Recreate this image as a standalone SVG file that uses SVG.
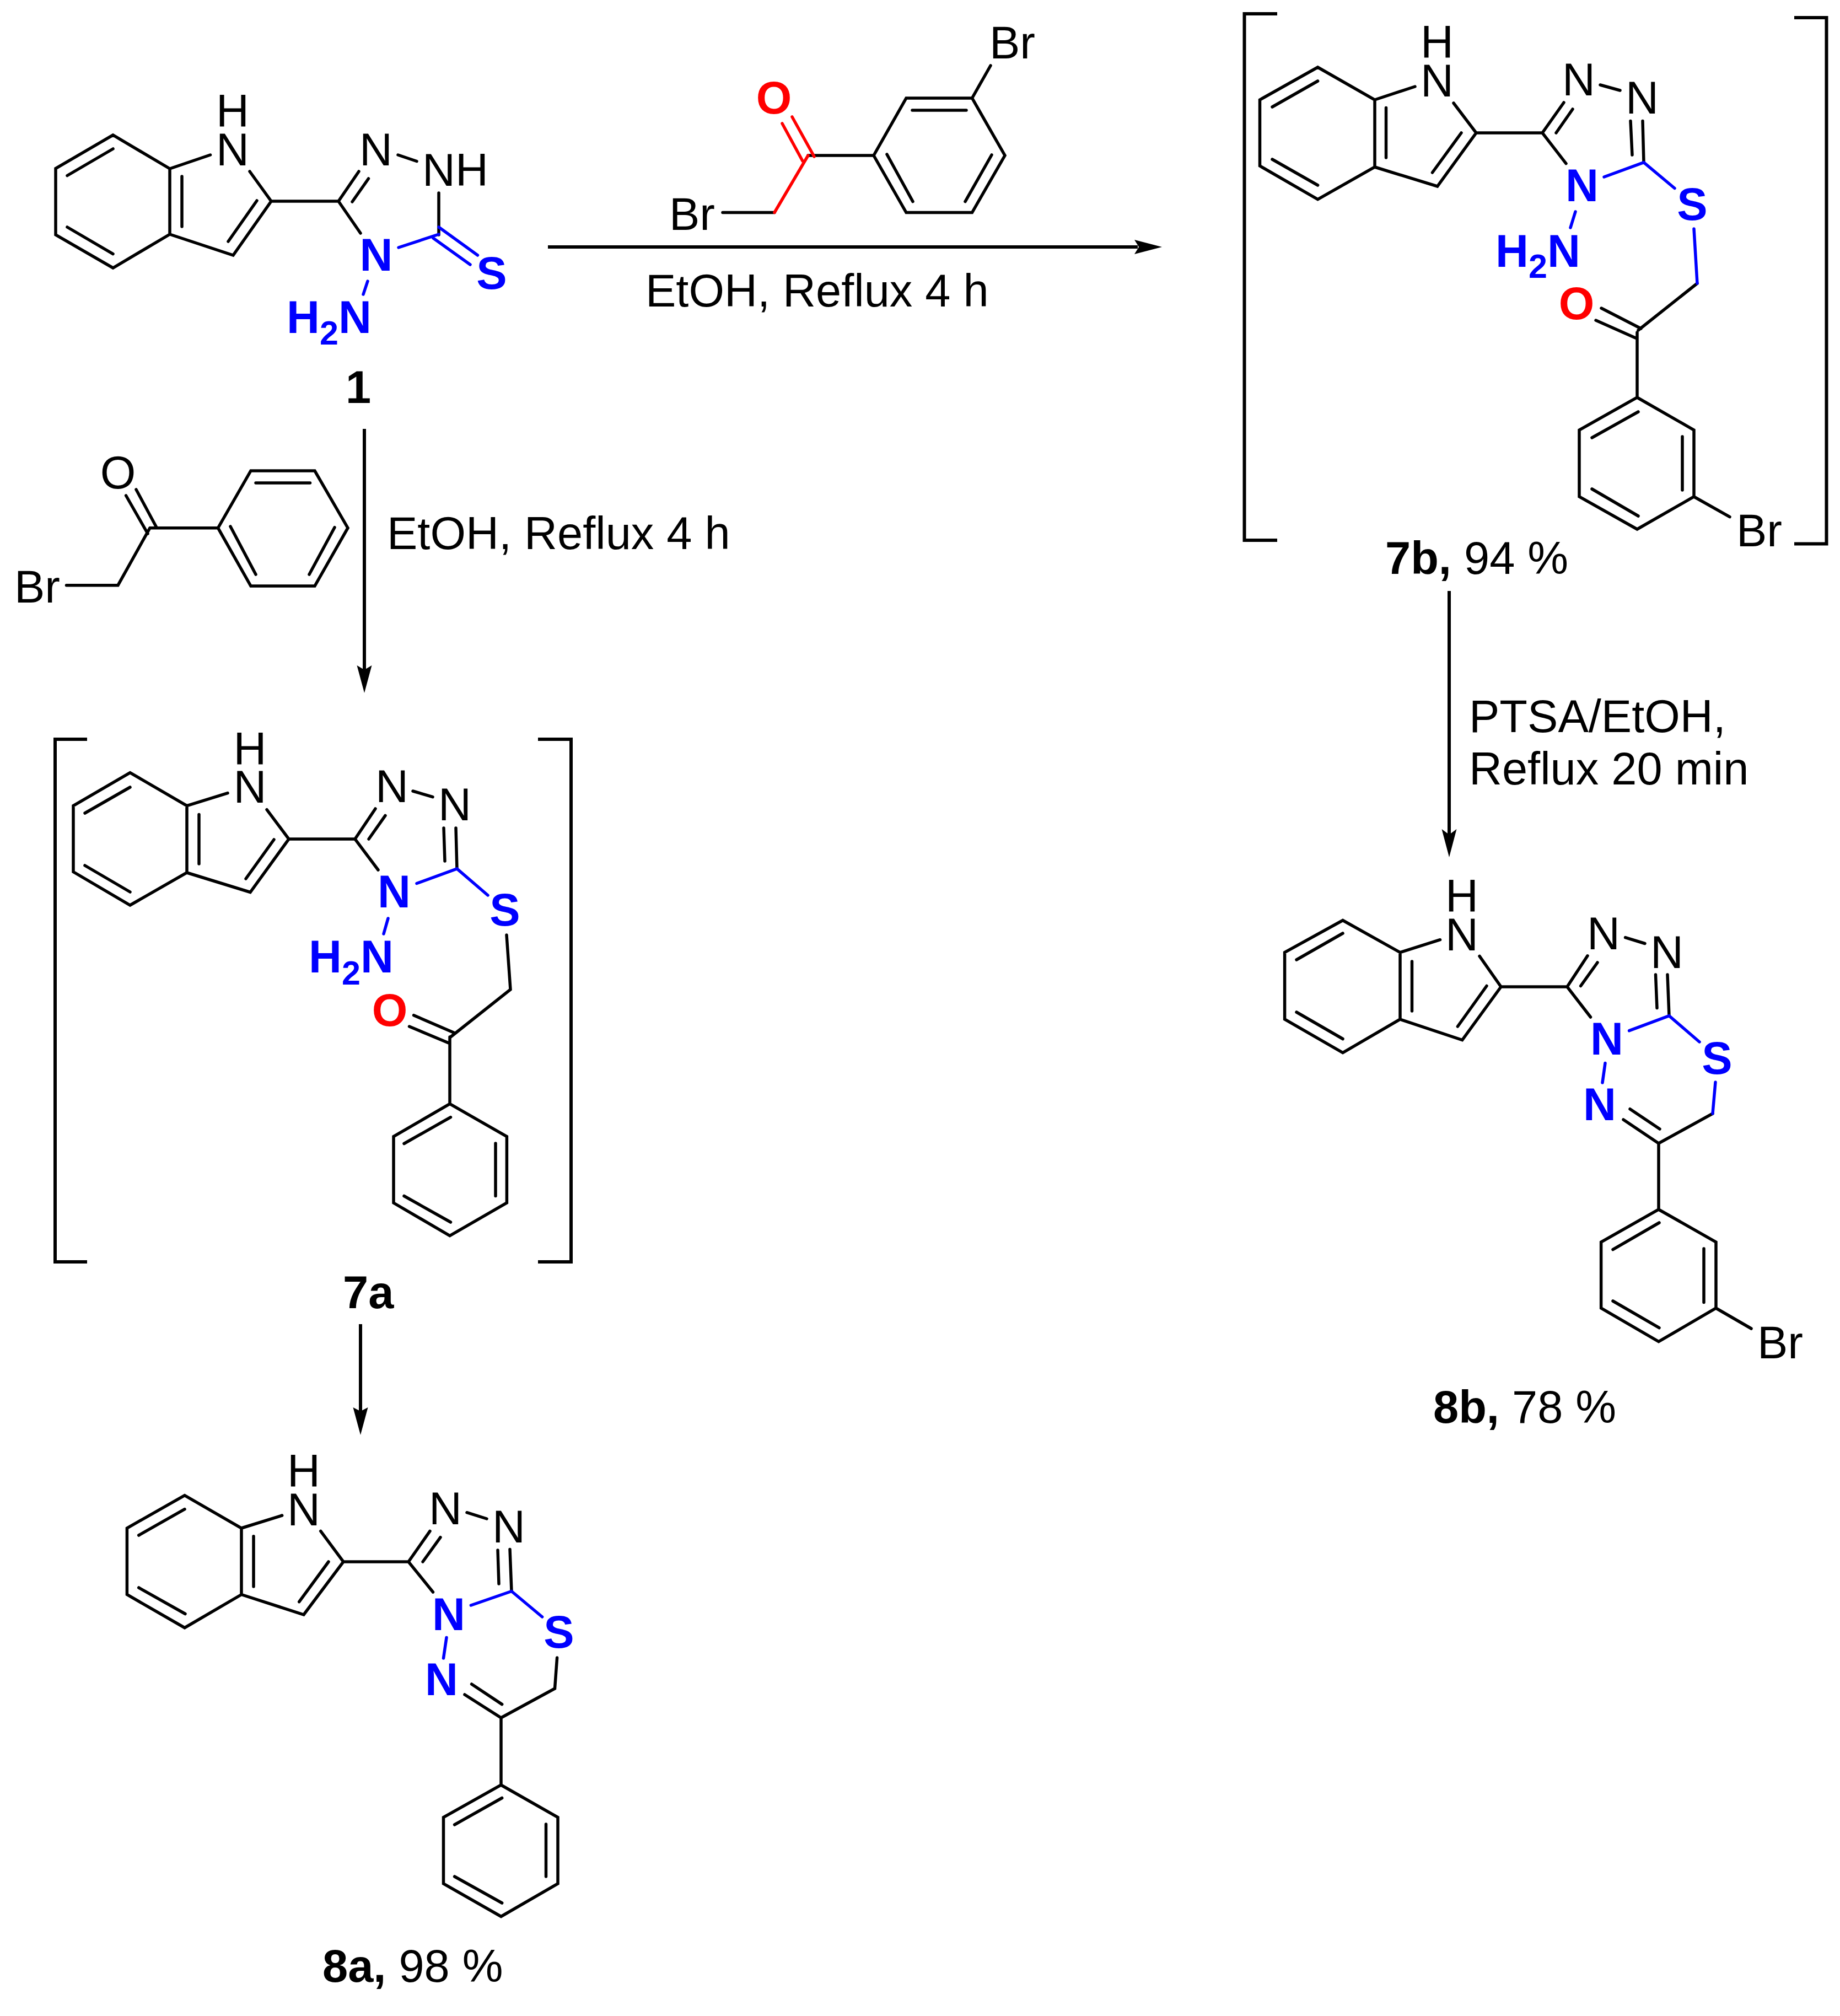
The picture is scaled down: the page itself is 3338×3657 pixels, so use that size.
<svg xmlns="http://www.w3.org/2000/svg" width="3338" height="3657" viewBox="0 0 3338 3657">
<style>
path{fill:none;stroke-width:5.5;stroke-linecap:round;stroke-linejoin:miter}
.k{stroke:#000}.u{stroke:#0000ff}.e{stroke:#ff0000}
.br{stroke:#000;stroke-width:6;stroke-linecap:butt}
.ar{stroke:#000;stroke-width:6;stroke-linecap:butt}
.hd{fill:#000;stroke:none}
text{font-family:"Liberation Sans",Arial,sans-serif;font-size:83px;fill:#000}
.c{text-anchor:middle}
.bl{font-weight:700;fill:#0000ff}
.rd{font-weight:700;fill:#ff0000}
.lb{font-weight:700}
.sub{font-size:61px}
</style>
<rect width="3338" height="3657" fill="#ffffff"/>
<g id="connectors">
<path class="ar" d="M994 448H2064"/><polygon class="hd" points="2108,448 2058,435 2066,448 2058,461"/>
<path class="ar" d="M661 778V1216"/><polygon class="hd" points="661,1257 647.5,1207 661,1215 674.5,1207"/>
<path class="ar" d="M654 2402V2560"/><polygon class="hd" points="654,2603 640.5,2553 654,2560 667.5,2553"/>
<path class="ar" d="M2629 1072V1516"/><polygon class="hd" points="2629,1555 2615.5,1504 2629,1514 2642.5,1504"/>
</g>
<g id="compound-1">
<path class="k" d="M205 245L101 305.5V426L205 486L308 425V306ZM122 318.5L205 270M122 412L205 460.6M330 320V411M308 306L381.5 281M453 311L492 365L423 463L308 425M466 364L414 438M492 365H614L651 311M639 366L668.5 324M614 365L654 423M722 281L756 292.5M796 350V426"/>
<path class="u" d="M723 449L796 425M796 412L866.5 463M786 432L853 480M667 510L659 534"/>
<text class="c"><tspan x="422" y="230">H</tspan><tspan x="422" y="300">N</tspan></text>
<text class="c" x="682" y="300">N</text><text x="766" y="337">NH</text>
<text class="c bl" x="682.5" y="491">N</text><text class="c bl" x="892" y="524">S</text>
<text class="bl" x="520" y="604">H<tspan class="sub" y="625">2</tspan><tspan y="604">N</tspan></text>
<text class="lb" x="627" y="731">1</text>
</g>
<g id="reagent-top">
<path class="k" d="M1644 178H1763.5L1823 282L1763.5 385.5H1644L1585 282ZM1655 200H1753M1799 281L1751 365.6M1609 280L1656 365.6M1466 282H1585M1763.5 178L1797 119M1405 385.5H1311"/>
<path class="e" d="M1466 282L1405 385.5M1437 212L1477 284M1419 224L1456 292"/>
<text class="c rd" x="1404" y="206">O</text>
<text x="1795" y="106">Br</text><text x="1214" y="417">Br</text>
<text x="1171" y="556">EtOH, Reflux 4 h</text>
</g>
<g id="reagent-left">
<path class="k" d="M455 854H571L631 957.7L571 1063H455L395.5 957.7ZM464 876H562.5M607 956.7L561 1042M418 955L464 1042M272 957.7H395.5M272 957.7L214 1061.7H120.5M247 888L284 956.7M228.6 899L268 968"/>
<text class="c" x="214" y="886">O</text><text x="26" y="1093">Br</text>
<text x="702" y="996">EtOH, Reflux 4 h</text>
</g>
<g id="compound-7b">
<path class="br" d="M2317 25H2257.5V980H2317M3255 32H3313.5V986.5H3255"/>
<path class="k" d="M2390.6 122L2285.5 181V301L2390.6 361.6L2494 303V181ZM2308 194L2390.6 147M2308 289L2390.6 336M2514.5 195.5V286M2494 181L2567 157M2637 187L2678 241L2607.6 338L2494 303M2651 241L2598.5 313M2678 241H2798L2837 186M2823 241L2853 198M2798 241L2841 296.6M2903 154L2939 164M2980 219.6L2982 294.6M2958 219.6L2961 281M3079 514L2972 599M2905 559L2977 596M2895 581L2967 613M2970 603V721L2865 780V901L2970 960L3073 901V780L2970 721M2888 794L2972 747M2888 887L2972 936M3052 792V889M3073 901L3138 937.6"/>
<path class="u" d="M2910 321L2982 294.6L3038 341.5M2858 384L2849 413M3073 415L3079 514"/>
<text class="c"><tspan x="2607" y="105">H</tspan><tspan x="2607" y="175">N</tspan></text>
<text class="c" x="2864" y="173">N</text><text class="c" x="2979" y="206">N</text>
<text class="c bl" x="2870" y="365">N</text><text class="c bl" x="3070" y="399">S</text>
<text class="bl" x="2713" y="484">H<tspan class="sub" y="504">2</tspan><tspan y="484">N</tspan></text>
<text class="c rd" x="2860" y="579">O</text>
<text x="3150" y="991">Br</text>
<text x="2513" y="1041"><tspan class="lb">7b,</tspan> 94 %</text>
</g>
<g id="compound-8b">
<path class="k" d="M2436 1669.5L2330.6 1727.7V1849L2436 1909.6L2540 1849V1727.7ZM2352 1741L2436 1693M2352 1836L2436 1884.5M2561.5 1744V1834M2540 1727.7L2612.5 1704.7M2684 1734.4L2723 1790L2652.7 1886.6L2540 1849M2697 1788.5L2644.4 1862M2723 1790H2843L2880 1733.8M2867.6 1788.5L2898 1746M2843 1790L2885.5 1845M2948.6 1700.6L2984 1711.5M3025 1768L3028 1842.6M3003.5 1768L3006 1828.4M3107 2020L3009 2074L2945 2031M3011 2048L2957 2011.7M3009 2074V2194L2904.6 2253V2373L3009 2433.6L3113 2373V2253L3009 2194M2926 2266.6L3010 2218M2926 2360L3010 2408.6M3091 2265V2362.6M3113 2373L3177 2410"/>
<path class="u" d="M2955.6 1869.7L3028 1842.6L3083 1890M2912 1928.5L2907 1964M3112 1963L3107 2020"/>
<text class="c"><tspan x="2652" y="1654">H</tspan><tspan x="2652" y="1724">N</tspan></text>
<text class="c" x="2909" y="1722">N</text><text class="c" x="3024" y="1756">N</text>
<text class="c bl" x="2915" y="1913">N</text><text class="c bl" x="2902" y="2032">N</text><text class="c bl" x="3115" y="1948">S</text>
<text x="3188" y="2464">Br</text>
<text x="2600" y="2581"><tspan class="lb">8b,</tspan> 78 %</text>
</g>
<g id="condition-ptsa">
<text><tspan x="2665" y="1328">PTSA/EtOH,</tspan><tspan x="2665" y="1423">Reflux 20 min</tspan></text>
</g>
<g id="compound-7a">
<path class="br" d="M158 1341H100V2289H158M976 1341H1036V2289H976"/>
<path class="k" d="M236 1401.6L133 1461.6V1581.5L236 1642L339 1583V1461.6ZM154 1475L236 1428M154 1570L236 1618M361 1477.5V1567M339 1461.6L413 1438.6M484 1468.6L524 1522L454 1618.5L339 1583M497 1523L446 1594M524 1522H644L681 1467M669 1522L699 1479.4M644 1522L686 1578M749 1435L785 1445.6M827 1502L829 1576M805 1502L807 1562M919 1696L926 1795L817.5 1881M750.6 1841.7L824 1873.6M742.5 1862L814 1892M816 1881V2002.4L714 2061.7V2182L816 2241.6L919.4 2182V2061.7L816 2002.4M733 2074.5L817.5 2026.6M733 2169.5L817.5 2217M899 2074V2169.5"/>
<path class="u" d="M756 1602.5L829 1576L885 1624M704 1666L696 1694"/>
<text class="c"><tspan x="453.5" y="1387">H</tspan><tspan x="453.5" y="1456">N</tspan></text>
<text class="c" x="711" y="1455">N</text><text class="c" x="825" y="1488">N</text>
<text class="c bl" x="715" y="1646">N</text><text class="c bl" x="916" y="1679">S</text>
<text class="bl" x="560" y="1764">H<tspan class="sub" y="1786">2</tspan><tspan y="1764">N</tspan></text>
<text class="c rd" x="707" y="1861">O</text>
<text class="lb" x="622" y="2373">7a</text>
</g>
<g id="compound-8a">
<path class="k" d="M335 2712.6L230.4 2772V2892.5L335 2952.7L438 2892.5V2772ZM251.7 2785L335 2737.7M251.7 2880L336 2927.5M460 2786.7V2878M438 2772L511.7 2749M581.7 2777.4L623 2833L551 2929L438 2892.5M596 2833L542.7 2905.7M623 2833H741L780 2777.4M767 2833L799 2788.7M741 2833L785.5 2888M847 2743.7L883 2755M925 2810.5L928 2886.5M903 2812L905 2873M1010.6 3007L1006.5 3063L909 3116L843 3074M910.7 3091.6L855.6 3055M909 3116V3238L804.5 3296.6V3417L909 3476.5L1012 3417V3296.6L909 3238M824.6 3310L910.7 3261.5M824.6 3404L910.7 3452M990.5 3309V3404"/>
<path class="u" d="M854.4 2912L928 2886.5L983.6 2933M810 2970.5L804.5 3008"/>
<text class="c"><tspan x="551" y="2697">H</tspan><tspan x="551" y="2767">N</tspan></text>
<text class="c" x="808" y="2765">N</text><text class="c" x="923" y="2798">N</text>
<text class="c bl" x="814" y="2957">N</text><text class="c bl" x="801" y="3075">N</text><text class="c bl" x="1014" y="2989">S</text>
<text x="585" y="3595"><tspan class="lb">8a,</tspan> 98 %</text>
</g>
</svg>
